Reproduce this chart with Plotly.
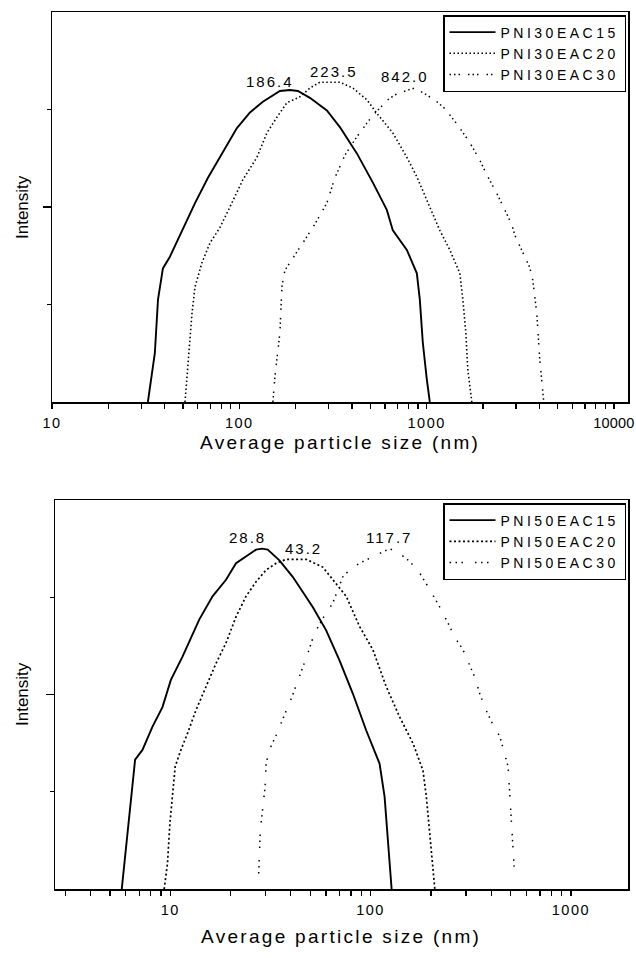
import numpy as np
import plotly.graph_objects as go

# ---------------- data ----------------
# Top panel: PNI30 series
top_x_15 = [32.5, 35.4, 36.8, 39.1, 42.6, 49.4, 58.0, 68.0, 78.8, 97.1,
            114, 133.6, 164.7, 186.4, 205.5, 238.1, 293.4, 344.2, 424.2, 516.4,
            613, 660, 784, 886.6, 919.6, 954, 1002.5, 1040]
top_y_15 = [0, 0.50, 1.05, 1.37, 1.49, 1.76, 2.04, 2.30, 2.51, 2.81,
            2.97, 3.08, 3.19, 3.20, 3.19, 3.12, 2.99, 2.82, 2.55, 2.25,
            1.97, 1.76, 1.56, 1.32, 1.05, 0.61, 0.23, 0]

top_x_20 = [51.3, 53.2, 55.9, 58.0, 63.2, 69.7, 78.8, 89.1, 104.5, 124.2,
            140.4, 158.7, 179.5, 210.6, 238.1, 269.2, 344.2, 403.8, 479.7, 542.5,
            660, 784, 886.6, 1002.5, 1176, 1330, 1504, 1561, 1619, 1659, 1743]
top_y_20 = [0, 0.43, 0.91, 1.18, 1.43, 1.63, 1.79, 2.00, 2.28, 2.51,
            2.76, 2.92, 3.07, 3.13, 3.22, 3.28, 3.28, 3.22, 3.10, 2.96,
            2.76, 2.51, 2.31, 2.07, 1.76, 1.56, 1.32, 1.05, 0.71, 0.33, 0]

top_x_30 = [151.1, 154.9, 164.7, 168.8, 175.1, 190.9, 218.5, 247.1, 293.4, 323.7,
            366, 424.2, 479.7, 516.4, 620.9, 676.7, 793.6, 865, 1002.5, 1133,
            1250, 1467, 1701, 1923, 2095, 2369, 2614, 2849, 2956, 3554,
            3687, 3873, 4018, 4170, 4221]
top_y_30 = [0, 0.26, 0.71, 1.18, 1.35, 1.46, 1.64, 1.79, 2.04, 2.30,
            2.53, 2.72, 2.86, 2.94, 3.10, 3.15, 3.20, 3.22, 3.15, 3.08,
            3.01, 2.84, 2.66, 2.48, 2.33, 2.14, 1.97, 1.82, 1.71, 1.38,
            1.25, 0.91, 0.43, 0.15, 0]

# Bottom panel: PNI50 series
bot_x_15 = [5.73, 6.00, 6.36, 6.68, 7.27, 8.16, 9.15, 10.08, 11.52, 13.96,
            16.27, 18.99, 21.31, 23.91, 26.83, 28.8, 30.66, 35.08, 40.88, 51.46,
            60.04, 69.98, 81.56, 95.17, 110.9, 117.5, 122.0, 126.9, 127.4]
bot_y_15 = [0, 0.40, 0.95, 1.33, 1.43, 1.67, 1.87, 2.15, 2.39, 2.77,
            3.01, 3.18, 3.35, 3.42, 3.49, 3.50, 3.49, 3.38, 3.21, 2.90,
            2.66, 2.35, 2.01, 1.63, 1.29, 0.95, 0.54, 0.09, 0]

bot_x_20 = [9.33, 9.69, 9.97, 10.27, 10.59, 11.31, 12.20, 13.45, 15.09, 16.93,
            18.99, 21.31, 23.91, 26.83, 30.10, 33.77, 37.89, 47.70, 57.73, 64.77,
            75.57, 88.10, 102.7, 119.8, 139.6, 162.7, 182.6, 189.9, 197.2, 203.5,
            208.9, 209.3]
bot_y_20 = [0, 0.26, 0.68, 0.95, 1.26, 1.43, 1.60, 1.84, 2.08, 2.32,
            2.53, 2.80, 3.01, 3.16, 3.28, 3.35, 3.39, 3.39, 3.31, 3.18,
            3.01, 2.70, 2.46, 2.08, 1.77, 1.50, 1.22, 0.95, 0.61, 0.26,
            0.06, 0]

bot_x_30 = [27.64, 28.18, 29.76, 30.10, 31.26, 33.77, 40.60, 44.16, 48.59, 52.48,
            57.73, 64.77, 68.63, 72.69, 78.52, 88.10, 124.5, 139.6, 156.7, 175.8,
            193.5, 208.9, 225.7, 248.3, 263.0, 289.4, 312.6, 331.1, 350.8, 371.5,
            401.4, 441.6, 486.0, 495.5, 505.3, 514.6, 520.6]
bot_y_30 = [0.16, 0.61, 1.05, 1.29, 1.43, 1.58, 1.98, 2.18, 2.42, 2.63,
            2.78, 2.94, 3.07, 3.21, 3.28, 3.35, 3.50, 3.45, 3.37, 3.25,
            3.11, 2.99, 2.87, 2.70, 2.59, 2.46, 2.29, 2.18, 2.01, 1.87,
            1.72, 1.57, 1.26, 0.98, 0.71, 0.47, 0.23]

top_names = ["PNI30EAC15", "PNI30EAC20", "PNI30EAC30"]
bot_names = ["PNI50EAC15", "PNI50EAC20", "PNI50EAC30"]

# peak labels: text, x (nm), y (intensity)
top_labels = ["186.4", "223.5", "842.0"]
top_label_x = [145.6, 320, 765]
top_label_y = [3.29, 3.39, 3.34]
bot_labels = ["28.8", "43.2", "117.7"]
bot_label_x = [24.3, 46.2, 123]
bot_label_y = [3.61, 3.50, 3.61]

top_ticks = [10, 100, 1000, 10000]
top_ticktext = ["10", "100", "1000", "10000"]
bot_ticks = [10, 100, 1000]
bot_ticktext = ["10", "100", "1000"]

x_title = "Average particle size (nm)"
y_title = "Intensity"

# ---------------- figure ----------------
W, H = 636, 958
FONT = "Liberation Sans, Arial, sans-serif"


def spaced(s, ls):
    return '<span style="letter-spacing:%spx">%s</span>' % (ls, s)


fig = go.Figure()

styles = [
    dict(color="black", width=1.9, dash="solid"),
    dict(color="black", width=1.6, dash="1.5px,2.5px"),
    dict(color="black", width=1.5, dash="1.5px,3px,1.5px,3px,1.5px,8px"),
]
styles_b = [
    dict(color="black", width=1.9, dash="solid"),
    dict(color="black", width=1.7, dash="2px,2.5px"),
    dict(color="black", width=1.5, dash="1.5px,4.5px,1.5px,4.5px,1.5px,12px"),
]

for xs, ys, nm, st in zip([top_x_15, top_x_20, top_x_30], [top_y_15, top_y_20, top_y_30],
                          top_names, styles):
    fig.add_trace(go.Scatter(x=xs, y=ys, mode="lines", name=spaced(nm, 3.5), line=st,
                             xaxis="x", yaxis="y", legend="legend"))
for xs, ys, nm, st in zip([bot_x_15, bot_x_20, bot_x_30], [bot_y_15, bot_y_20, bot_y_30],
                          bot_names, styles_b):
    fig.add_trace(go.Scatter(x=xs, y=ys, mode="lines", name=spaced(nm, 3.5), line=st,
                             xaxis="x2", yaxis="y2", legend="legend2"))


def minor_vals(lo, hi):
    return [m * 10 ** k for k in range(lo, hi) for m in range(2, 10)]


axis_common = dict(showline=True, linecolor="black", linewidth=1.5, mirror=True,
                   showgrid=False, zeroline=False, ticks="outside", tickcolor="black",
                   automargin=False)

top_tt = [spaced(t, 1.5) for t in top_ticktext[:-1]] + [spaced(top_ticktext[-1], 0.2)]

fig.update_layout(
    width=W, height=H, autosize=False,
    margin=dict(l=0, r=0, t=0, b=0, pad=0, autoexpand=False),
    paper_bgcolor="white", plot_bgcolor="white",
    font=dict(family=FONT, color="black"),
    xaxis=dict(axis_common, type="log", range=[1, 4.075], domain=[52 / W, 628 / W],
               anchor="y", tickmode="array", tickvals=top_ticks, ticktext=top_tt,
               ticklabeloverflow="allow", ticklabelstandoff=2,
               ticklen=5, tickwidth=1.3, tickfont=dict(size=14.5, family=FONT),
               minor=dict(tickmode="array", tickvals=minor_vals(1, 4), ticks="outside",
                          ticklen=5, tickwidth=1.3, tickcolor="black", showgrid=False)),
    yaxis=dict(axis_common, range=[0, 4], domain=[1 - 402 / H, 1 - 12 / H], anchor="x",
               tickmode="array", tickvals=[2], ticklen=8, tickwidth=1.3,
               showticklabels=False,
               minor=dict(tickmode="array", tickvals=[1, 3], ticks="outside",
                          ticklen=4, tickwidth=1.3, tickcolor="black", showgrid=False)),
    xaxis2=dict(axis_common, type="log", range=[0.425, 3.285], domain=[55 / W, 628 / W],
                anchor="y2", tickmode="array", tickvals=bot_ticks,
                ticktext=[spaced(t, 1.5) for t in bot_ticktext],
                ticklabeloverflow="allow", ticklabelstandoff=2,
                ticklen=5, tickwidth=1.3, tickfont=dict(size=14.5, family=FONT),
                minor=dict(tickmode="array", tickvals=minor_vals(0, 3), ticks="outside",
                           ticklen=5, tickwidth=1.3, tickcolor="black", showgrid=False)),
    yaxis2=dict(axis_common, range=[0, 4], domain=[1 - 889 / H, 1 - 500 / H], anchor="x2",
                tickmode="array", tickvals=[2], ticklen=8, tickwidth=1.3,
                showticklabels=False,
                minor=dict(tickmode="array", tickvals=[1, 3], ticks="outside",
                           ticklen=4, tickwidth=1.3, tickcolor="black", showgrid=False)),
    legend=dict(x=443 / W, y=1 - 15 / H, xanchor="left", yanchor="top",
                bgcolor="white", bordercolor="black", borderwidth=1.5,
                font=dict(size=14, family=FONT), tracegroupgap=0, itemwidth=46),
    legend2=dict(x=443 / W, y=1 - 503 / H, xanchor="left", yanchor="top",
                 bgcolor="white", bordercolor="black", borderwidth=1.5,
                 font=dict(size=14, family=FONT), tracegroupgap=0, itemwidth=46),
    showlegend=True,
)

annotations = []
for t, lx, ly in zip(top_labels, top_label_x, top_label_y):
    annotations.append(dict(x=np.log10(lx), y=ly, xref="x", yref="y", text=spaced(t, 2),
                            xanchor="center", yanchor="middle",
                            showarrow=False, font=dict(size=15, family=FONT)))
for t, lx, ly in zip(bot_labels, bot_label_x, bot_label_y):
    annotations.append(dict(x=np.log10(lx), y=ly, xref="x2", yref="y2", text=spaced(t, 2),
                            xanchor="center", yanchor="middle",
                            showarrow=False, font=dict(size=15, family=FONT)))

# axis titles
title_pos = [(340, 442, x_title, 0), (341, 936, x_title, 0),
             (22, 207, y_title, -90), (22, 694, y_title, -90)]
for px, py, txt, ang in title_pos:
    annotations.append(dict(x=px / W, y=1 - py / H, xref="paper", yref="paper",
                            text=spaced(txt, 2.3) if ang == 0 else txt, textangle=ang,
                            xanchor="center", yanchor="middle", showarrow=False,
                            font=dict(size=19 if ang == 0 else 17, family=FONT)))
fig.update_layout(annotations=annotations)

fig.write_html(
    "out.html",
    config={"displayModeBar": False, "staticPlot": True},
    post_script="document.body.style.margin='0px';"
                "document.documentElement.style.overflow='hidden';",
)
